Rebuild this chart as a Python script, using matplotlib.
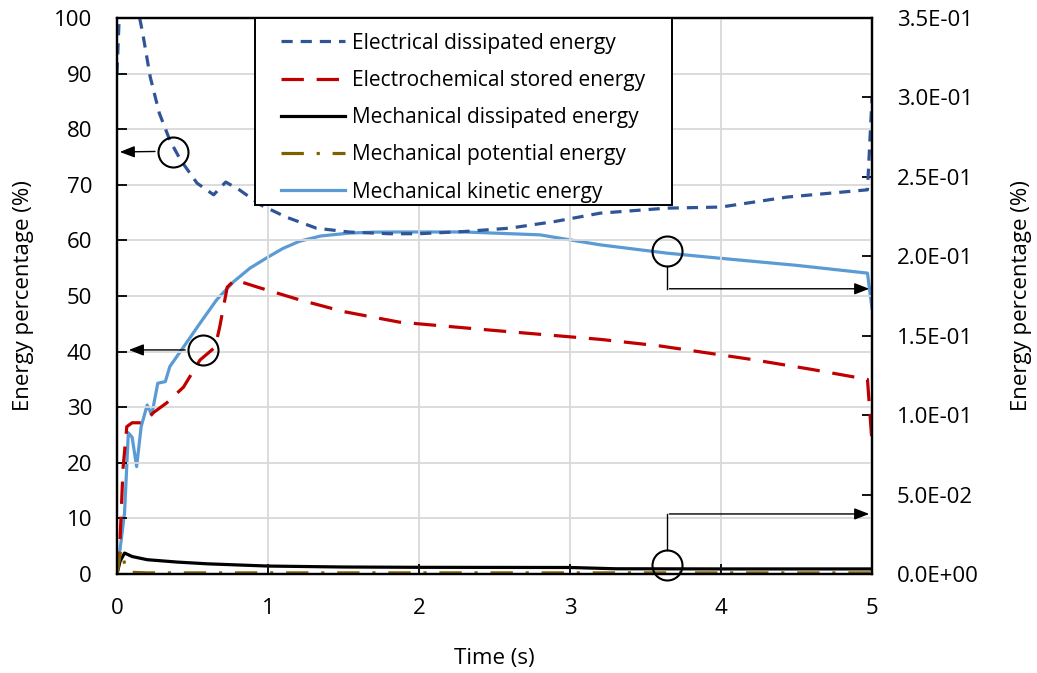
import matplotlib
matplotlib.use("Agg")
import matplotlib.pyplot as plt
from matplotlib.patches import Rectangle

plt.rcParams['font.family'] = ['Open Sans', 'DejaVu Sans']

# ---------------- data ----------------
t_elec = [0.0, 0.02, 0.05, 0.10, 0.15, 0.17, 0.22, 0.28, 0.35, 0.42, 0.53, 0.64, 0.72, 0.81,
          0.95, 1.12, 1.32, 1.54, 1.8, 2.0, 2.3, 2.6, 2.9, 3.2, 3.64, 4.0, 4.44, 4.97, 5.0]
elec_dissipated = [90, 104, 110, 106, 100, 97.3, 89.4, 82.9, 78.0, 74.5, 70.3, 68.2, 70.5, 69.1,
                   66.4, 64.2, 62.2, 61.5, 61.2, 61.2, 61.6, 62.2, 63.4, 64.9, 65.8, 66.0, 67.8, 69.1, 85.6]

t_chem = [0.0, 0.02, 0.04, 0.065, 0.1, 0.17, 0.24, 0.33, 0.44, 0.55, 0.65, 0.68, 0.73, 0.78,
          0.93, 1.21, 1.5, 1.87, 2.5, 3.2, 3.6, 4.2, 4.6, 4.97, 5.0]
chem_stored = [0.0, 6.0, 19.0, 26.5, 27.2, 27.2, 29.0, 30.8, 33.6, 38.5, 40.8, 44.4, 51.6, 52.9,
               51.6, 49.3, 47.2, 45.3, 43.8, 42.2, 41.0, 38.6, 36.8, 35.0, 23.7]

t_mdis = [0.0, 0.02, 0.05, 0.1, 0.2, 0.4, 0.6, 1.0, 1.5, 2.0, 3.0, 3.3, 4.0, 5.0]
mech_dissipated = [0.0, 0.008, 0.0132, 0.011, 0.0090, 0.0075, 0.0064, 0.0050, 0.0044, 0.0042,
                   0.0041, 0.0033, 0.0032, 0.0032]

t_pot = [0.0, 0.025, 0.06, 0.1, 0.2, 1.0, 5.0]
mech_potential = [0.0, 4.3, 1.0, 0.3, 0.2, 0.2, 0.2]

t_kin = [0.0, 0.05, 0.075, 0.1, 0.13, 0.16, 0.2, 0.23, 0.27, 0.32, 0.35, 0.44, 0.55, 0.66,
         0.77, 0.88, 1.0, 1.1, 1.21, 1.35, 1.54, 1.7, 1.87, 2.3, 2.8, 3.2, 3.64, 3.99, 4.5, 4.97, 5.0]
mech_kinetic = [0.0, 0.0385, 0.0889, 0.0861, 0.0676, 0.0928, 0.1064, 0.1001, 0.1201, 0.1211,
                0.1306, 0.1428, 0.1579, 0.1726, 0.1838, 0.1925, 0.1995, 0.2050, 0.2095, 0.2128,
                0.2146, 0.2152, 0.2153, 0.2153, 0.2135, 0.2072, 0.2020, 0.1988, 0.1943, 0.1894, 0.1673]

x_ticks = [0, 1, 2, 3, 4, 5]
left_ticks = [0, 10, 20, 30, 40, 50, 60, 70, 80, 90, 100]
right_ticks = [0.0, 0.05, 0.10, 0.15, 0.20, 0.25, 0.30, 0.35]
right_labels = ["0.0E+00", "5.0E-02", "1.0E-01", "1.5E-01", "2.0E-01", "2.5E-01", "3.0E-01", "3.5E-01"]

# ---------------- figure ----------------
fig = plt.figure(figsize=(10.37, 6.73), dpi=100)
ax = fig.add_axes([117/1037, 1-574/673, (872-117)/1037, (574-18)/673])
ax2 = ax.twinx()

FS = 16
ax.set_xlim(0, 5)
ax.set_ylim(0, 100)
ax2.set_ylim(0, 0.35)
ax.set_xticks(x_ticks)
ax.set_xticklabels([str(v) for v in x_ticks], fontsize=FS)
ax.set_yticks(left_ticks)
ax.set_yticklabels([str(v) for v in left_ticks], fontsize=FS)
ax2.set_yticks(right_ticks)
ax2.set_yticklabels(right_labels, fontsize=FS)

ax.grid(True, color='#d9d9d9', linewidth=1.3)
ax.set_axisbelow(True)
ax.tick_params(axis='y', direction='in', length=7, width=1.3, pad=18)
ax.tick_params(axis='x', direction='in', length=7, width=1.3, pad=17)
ax2.tick_params(axis='y', direction='in', length=7, width=1.3, pad=18)
for a in (ax, ax2):
    for s in a.spines.values():
        s.set_linewidth(1.6)
        s.set_color('black')

ax.set_xlabel("Time (s)", fontsize=FS, labelpad=21)
ax.set_ylabel("Energy percentage (%)", fontsize=FS, labelpad=14)
ax2.set_ylabel("Energy percentage (%)", fontsize=FS, labelpad=23)

LW = 2.3
l1, = ax.plot(t_elec, elec_dissipated, color='#2f5597', lw=LW, dashes=(3.5, 2.5),
              label='Electrical dissipated energy')
l2, = ax.plot(t_chem, chem_stored, color='#c00000', lw=LW, dashes=(7, 4),
              label='Electrochemical stored energy')
l3, = ax2.plot(t_mdis, mech_dissipated, color='black', lw=LW,
               label='Mechanical dissipated energy')
l4, = ax.plot(t_pot, mech_potential, color='#7f6000', lw=LW, dashes=(7, 4, 1, 4),
              label='Mechanical potential energy')
l5, = ax2.plot(t_kin, mech_kinetic, color='#5b9bd5', lw=LW,
               label='Mechanical kinetic energy')
ax.set_zorder(ax2.get_zorder() + 1)
ax.patch.set_visible(False)

# legend frame (drawn separately to get Excel-like asymmetric padding)
frame = Rectangle((138/755, (574-205)/556), (672-255)/755, (205-18)/556,
                  transform=ax.transAxes, facecolor='white', edgecolor='black',
                  linewidth=1.4, zorder=6, clip_on=False)
ax.add_patch(frame)
leg = ax.legend(handles=[l1, l2, l3, l4, l5], loc='upper left',
                bbox_to_anchor=(0.198, 1.0), borderaxespad=0, fontsize=15, frameon=False,
                handlelength=3.07, borderpad=0.7, labelspacing=0.78, handletextpad=0.34)
leg.set_zorder(7)

# ---------------- annotations (circles + arrows) ----------------
R = 15
def circle(xd, yd):
    ax.plot([xd], [yd], marker='o', markersize=2*R*0.72, mfc='none', mec='black',
            mew=1.5, zorder=10, clip_on=False)

arrow_kw = dict(arrowstyle='-|>,head_length=0.9,head_width=0.35', color='black', lw=1.0)

circle(0.37, 75.9)
ax.annotate('', xy=(0.0, 75.9), xytext=(0.27, 76.0), arrowprops=arrow_kw, zorder=10)
circle(0.57, 40.3)
ax.annotate('', xy=(0.06, 40.3), xytext=(0.47, 40.3), arrowprops=arrow_kw, zorder=10)

circle(3.64, 58.1)
ax.plot([3.64, 3.64], [55.4, 51.3], color='black', lw=1.0, zorder=10)
ax.annotate('', xy=(5.0, 51.3), xytext=(3.64, 51.3), arrowprops=arrow_kw, zorder=10)

circle(3.64, 1.6)
ax.plot([3.64, 3.64], [4.3, 10.8], color='black', lw=1.0, zorder=10)
ax.annotate('', xy=(5.0, 10.8), xytext=(3.64, 10.8), arrowprops=arrow_kw, zorder=10)

fig.savefig("out.png", dpi=100)
